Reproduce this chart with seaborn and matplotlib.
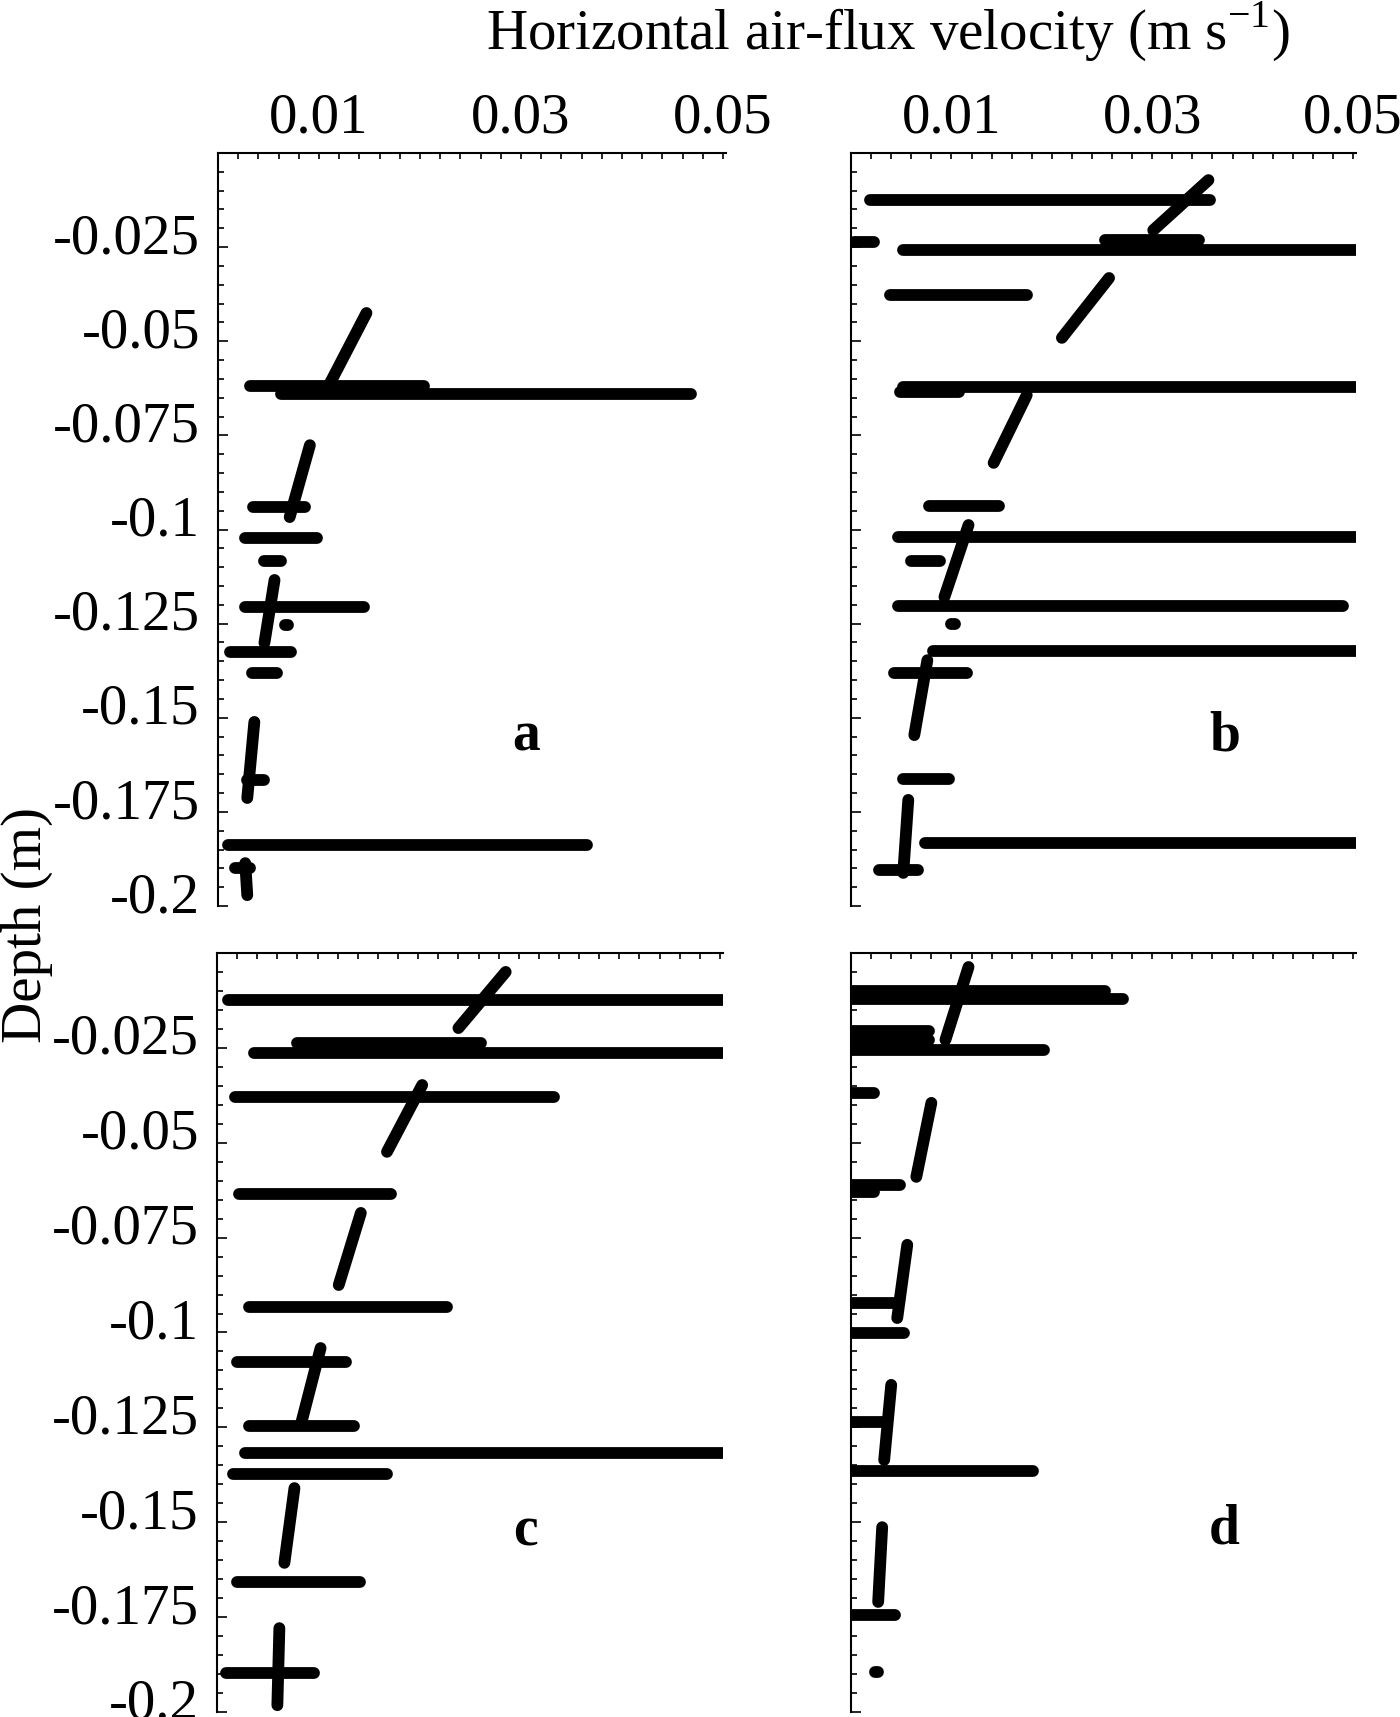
import pandas as pd
import numpy as np
import seaborn as sns
import matplotlib.pyplot as plt
import matplotlib.transforms as mtransforms
from matplotlib.ticker import MultipleLocator

# horizontal bars: (start, end, depth) ; slanted marks: (x0, depth0, x1, depth1)
# 0.06 = bar runs off the right edge of the frame
a_bars = [(0.0032, 0.0204, -0.0619), (0.0062, 0.0468, -0.0640), (0.0035, 0.0086, -0.0940),
          (0.0027, 0.0098, -0.1023), (0.0046, 0.0062, -0.1084), (0.0027, 0.0145, -0.1206),
          (0.0066, 0.0069, -0.1254), (0.0012, 0.0072, -0.1325), (0.0034, 0.0058, -0.1381),
          (0.0029, 0.0046, -0.1665), (0.0010, 0.0365, -0.1838), (0.0017, 0.0032, -0.1899)]
a_slants = [(0.0147, -0.0425, 0.0111, -0.0611), (0.0091, -0.0776, 0.0071, -0.0967),
            (0.0056, -0.1134, 0.0046, -0.1301), (0.0036, -0.1511, 0.0029, -0.1713),
            (0.0027, -0.1886, 0.0029, -0.1971)]

b_bars = [(0.0019, 0.0358, -0.0125), (0.0003, 0.0023, -0.0236), (0.0253, 0.0347, -0.0231),
          (0.0052, 0.06, -0.0258), (0.0039, 0.0175, -0.0377), (0.0052, 0.06, -0.0621),
          (0.0049, 0.0108, -0.0635), (0.0078, 0.0147, -0.0938), (0.0047, 0.06, -0.1020),
          (0.0060, 0.0089, -0.1084), (0.0047, 0.0490, -0.1203), (0.0100, 0.0104, -0.1251),
          (0.0082, 0.06, -0.1323), (0.0043, 0.0115, -0.1381), (0.0052, 0.0098, -0.1663),
          (0.0074, 0.06, -0.1833), (0.0028, 0.0067, -0.1904)]
b_slants = [(0.0356, -0.0072, 0.0301, -0.0205), (0.0257, -0.0332, 0.0210, -0.0491),
            (0.0175, -0.0643, 0.0142, -0.0823), (0.0117, -0.0988, 0.0093, -0.1179),
            (0.0076, -0.1347, 0.0063, -0.1546), (0.0057, -0.1718, 0.0052, -0.1912)]

c_bars = [(0.0011, 0.06, -0.0124), (0.0080, 0.0262, -0.0237), (0.0037, 0.06, -0.0264),
          (0.0018, 0.0335, -0.0379), (0.0022, 0.0173, -0.0635), (0.0032, 0.0229, -0.0933),
          (0.0020, 0.0128, -0.1078), (0.0032, 0.0136, -0.1246), (0.0028, 0.06, -0.1318),
          (0.0016, 0.0169, -0.1373), (0.0020, 0.0142, -0.1657), (0.0009, 0.0096, -0.1897)]
c_slants = [(0.0287, -0.0050, 0.0240, -0.0198), (0.0204, -0.0348, 0.0169, -0.0524),
            (0.0143, -0.0685, 0.0121, -0.0875), (0.0103, -0.1041, 0.0084, -0.1236),
            (0.0077, -0.1410, 0.0067, -0.1607), (0.0062, -0.1779, 0.0060, -0.1982)]

d_bars = [(0.0, 0.0253, -0.0100), (0.0, 0.0271, -0.0121), (0.0, 0.0078, -0.0206),
          (0.0, 0.0078, -0.0229), (0.0, 0.0192, -0.0256), (0.0, 0.0023, -0.0369),
          (0.0, 0.0049, -0.0611), (0.0, 0.0023, -0.0630), (0.0, 0.0044, -0.0922),
          (0.0, 0.0053, -0.1001), (0.0, 0.0033, -0.1236), (0.0, 0.0181, -0.1365),
          (0.0, 0.0044, -0.1744), (0.0024, 0.0027, -0.1895)]
d_slants = [(0.0117, -0.0037, 0.0094, -0.0229), (0.0080, -0.0395, 0.0065, -0.0590),
            (0.0056, -0.0769, 0.0046, -0.0962), (0.0040, -0.1138, 0.0033, -0.1336),
            (0.0031, -0.1513, 0.0027, -0.1710)]

panel_letters = ["a", "b", "c", "d"]
x_tick_values = [0.01, 0.03, 0.05]
y_tick_values = [-0.025, -0.05, -0.075, -0.1, -0.125, -0.15, -0.175, -0.2]
y_tick_labels = ["-0.025", "-0.05", "-0.075", "-0.1", "-0.125", "-0.15", "-0.175", "-0.2"]

sns.set_style("ticks")
plt.rcParams["font.family"] = ["Liberation Serif", "DejaVu Serif"]
plt.rcParams["mathtext.fontset"] = "custom"
plt.rcParams["mathtext.rm"] = "Liberation Serif"
plt.rcParams["text.color"] = "black"
plt.rcParams["xtick.color"] = "black"
plt.rcParams["ytick.color"] = "black"
plt.rcParams["axes.labelcolor"] = "black"

fig = plt.figure(figsize=(14, 17.17), dpi=100)

# axes boxes in figure fractions (left, bottom, width, height)
boxes = [(0.1557, 0.4723, 0.3629, 0.4386), (0.6079, 0.4723, 0.3607, 0.4386),
         (0.1550, 0.0029, 0.3614, 0.4421), (0.6079, 0.0029, 0.3607, 0.4421)]
letter_pos = [(0.606, 0.207), (0.740, 0.206), (0.609, 0.220), (0.739, 0.222)]


def draw_panel(ax, bars, slants):
    rows = []
    for i, (x0, x1, d) in enumerate(bars):
        rows.append({"x": x0, "depth": d, "seg": f"h{i}"})
        rows.append({"x": x1, "depth": d, "seg": f"h{i}"})
    for i, (x0, d0, x1, d1) in enumerate(slants):
        rows.append({"x": x0, "depth": d0, "seg": f"s{i}"})
        rows.append({"x": x1, "depth": d1, "seg": f"s{i}"})
    df = pd.DataFrame(rows)
    sns.lineplot(data=df, x="x", y="depth", units="seg", estimator=None, sort=False,
                 color="black", lw=8.5, solid_capstyle="round", legend=False, ax=ax)


panels = [(a_bars, a_slants), (b_bars, b_slants), (c_bars, c_slants), (d_bars, d_slants)]
label_shift = mtransforms.ScaledTranslation(0, 10 / 72, fig.dpi_scale_trans)

for k, (bars, slants) in enumerate(panels):
    ax = fig.add_axes(boxes[k])
    draw_panel(ax, bars, slants)
    ax.set_xlim(0, 0.0503)
    ax.set_ylim(-0.2, 0)
    ax.set_xlabel("")
    ax.set_ylabel("")

    for side in ["right", "bottom"]:
        ax.spines[side].set_visible(False)
    for side in ["left", "top"]:
        ax.spines[side].set_linewidth(1.5)
        ax.spines[side].set_color("black")

    ax.xaxis.tick_top()
    ax.set_xticks(x_tick_values)
    ax.set_xticklabels(["0.01", "0.03", "0.05"])
    ax.xaxis.set_minor_locator(MultipleLocator(0.002))
    ax.set_yticks(y_tick_values)
    ax.set_yticklabels(y_tick_labels)
    ax.yaxis.set_minor_locator(MultipleLocator(0.005))

    ax.tick_params(axis="x", which="both", direction="in", top=True, bottom=False,
                   labelsize=41, pad=6, width=1.2, color="black", labelcolor="black")
    ax.tick_params(axis="x", which="major", length=4)
    ax.tick_params(axis="x", which="minor", length=4)
    ax.tick_params(axis="y", which="both", direction="in", left=True, right=False,
                   labelsize=41, pad=13, width=1.2, color="black", labelcolor="black")
    ax.tick_params(axis="y", which="major", length=7)
    ax.tick_params(axis="y", which="minor", length=4)

    if k >= 2:
        ax.tick_params(axis="x", labeltop=False)
    if k % 2 == 1:
        ax.tick_params(axis="y", labelleft=False)
    for lab in ax.get_yticklabels():
        lab.set_transform(lab.get_transform() + label_shift)

    ax.text(letter_pos[k][0], letter_pos[k][1], panel_letters[k], transform=ax.transAxes,
            ha="center", va="baseline", fontsize=40, fontweight="bold", color="black")

fig.text(0.634, 0.982, "Horizontal air-flux velocity (m s$^{-1}$)", ha="center",
         va="center", fontsize=41, color="black")
fig.text(0.019, 0.461, "Depth (m)", rotation=90, ha="center", va="center", fontsize=41,
         color="black")

fig.savefig("out.png", dpi=100)
